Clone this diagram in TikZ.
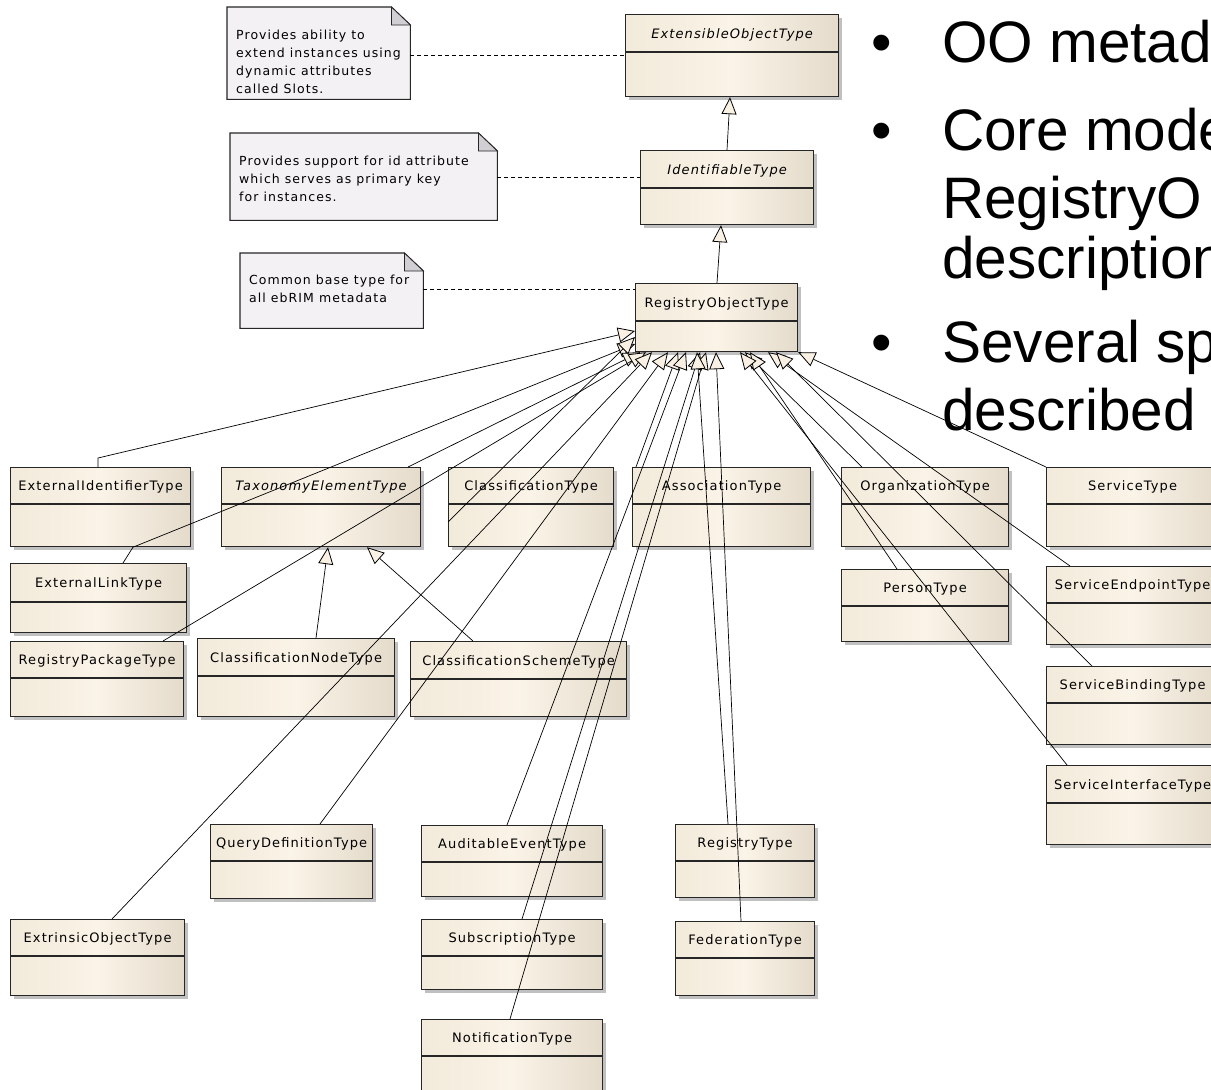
\documentclass[tikz,border=0pt]{standalone}
\usepackage{fontspec}
\setmainfont{DejaVu Sans}
\newfontfamily\eafont[LetterSpace=8.5]{DejaVu Sans}
\newfontfamily\slidefont{Liberation Sans}
\usetikzlibrary{arrows.meta,shadows,calc}

\definecolor{clsL}{RGB}{242,234,218}
\definecolor{clsM}{RGB}{250,243,231}
\definecolor{clsR}{RGB}{228,219,203}
\definecolor{clsEdge}{RGB}{38,38,38}
\definecolor{noteFill}{RGB}{244,241,245}
\definecolor{noteFold}{RGB}{210,207,212}
\definecolor{triFill}{RGB}{249,241,228}

\tikzset{
  clsbox/.style={rectangle, draw=clsEdge, line width=1.2pt, inner sep=0pt,
    left color=clsL, right color=clsR, middle color=clsM,
    drop shadow={shadow xshift=3.5pt, shadow yshift=-3.5pt, opacity=0.35, fill=black!70}},
  clsdiv/.style={draw=clsEdge, line width=1.1pt},
  clsname/.style={inner sep=0pt, yshift=-1.5pt, font=\eafont\fontsize{13}{15}\selectfont},
  clsital/.style={font=\eafont\itshape\fontsize{13}{15}\selectfont},
  notebody/.style={draw=clsEdge, line width=1.1pt, fill=noteFill},
  notefold/.style={draw=clsEdge, line width=0.8pt, fill=noteFold},
  notetext/.style={inner sep=0pt, align=left, font=\eafont\fontsize{12.5}{18}\selectfont},
  notelink/.style={draw=black, line width=0.8pt, dash pattern=on 4pt off 3pt},
  gen/.style={draw=black, line width=0.7pt,
    -{Triangle[length=17pt, width=15pt, fill=triFill, line width=0.8pt]}},
  slide/.style={inner sep=0pt, font=\slidefont\fontsize{58.5}{66}\selectfont},
}

\newcommand\umlclass[8][]{%
  \node[clsbox, anchor=north west, minimum width={#5-#3}, minimum height={#6-#4}] (#2) at (#3,#4) {};
  \draw[clsdiv] (#2.west |- 0,#7) -- (#2.east |- 0,#7);
  \node[clsname,#1] (#2-name) at ($(#2.north)!0.5!(#2.north |- 0,#7)$) {#8};
}
\newcommand\umlnote[7]{%
  \node[anchor=north west, minimum width={#4-#2}, minimum height={#5-#3}, inner sep=0pt] (#1) at (#2,#3) {};
  \filldraw[notebody] (#1.north west) -- ($(#1.north east)+(-19,0)$) -- ($(#1.north east)+(0,18)$)
     -- (#1.south east) -- (#1.south west) -- cycle;
  \filldraw[notefold] ($(#1.north east)+(-19,0)$) -- ($(#1.north east)+(-19,18)$) -- ($(#1.north east)+(0,18)$) -- cycle;
  \node[notetext, anchor=north west] (#1-text) at ($(#1.north west)+(9,#6)$) {#7};
}

\begin{document}
\begin{tikzpicture}[x=1pt,y=-1pt]
\useasboundingbox (0,0) rectangle (1211,1090);
\fill[white] (0,0) rectangle (1211,1090);
\clip (0,0) rectangle (1211,1090);

% notes
\umlnote{nA}{227}{7}{410}{99}{23}{Provides ability to\\extend instances using\\dynamic attributes\\called Slots.}
\umlnote{nB}{230}{133}{497}{220}{23}{Provides support for id attribute\\which serves as primary key\\for instances.}
\umlnote{nC}{240}{253}{423}{328}{22}{Common base type for\\all ebRIM metadata}

% classes
\umlclass[clsital]{eot}{625}{14}{838}{96}{52}{ExtensibleObjectType}
\umlclass[clsital]{idt}{640}{150}{813}{224}{188}{IdentifiableType}
\umlclass{ro}{635}{283}{797}{351}{321}{RegistryObjectType}

\umlclass{eit}{10}{467}{190}{546}{504}{ExternalIdentifierType}
\umlclass[clsital]{tet}{221}{467}{420}{546}{504}{TaxonomyElementType}
\umlclass{clt}{448}{467}{613}{546}{504}{ClassificationType}
\umlclass{ast}{632}{467}{810}{546}{504}{AssociationType}
\umlclass{org}{841}{467}{1008}{546}{504}{OrganizationType}
\umlclass{svc}{1046}{467}{1218}{546}{504}{ServiceType}

\umlclass{elt}{10}{563}{186}{632}{602}{ExternalLinkType}
\umlclass{per}{841}{569}{1008}{641}{606}{PersonType}
\umlclass{sep}{1046}{566}{1218}{644}{603}{ServiceEndpointType}

\umlclass{rpt}{10}{641}{183}{716}{678}{RegistryPackageType}
\umlclass{cnt}{197}{638}{394}{716}{676}{ClassificationNodeType}
\umlclass{cst}{410}{641}{626}{716}{679}{ClassificationSchemeType}
\umlclass{sbt}{1046}{666}{1218}{744}{703}{ServiceBindingType}

\umlclass{sit}{1046}{765}{1218}{844}{803}{ServiceInterfaceType}
\umlclass{qdt}{210}{824}{372}{898}{861}{QueryDefinitionType}
\umlclass{aet}{421}{825}{602}{896}{862}{AuditableEventType}
\umlclass{rgt}{675}{824}{814}{897}{861}{RegistryType}

\umlclass{xot}{10}{919}{184}{995}{956}{ExtrinsicObjectType}
\umlclass{sub}{421}{919}{602}{989}{956}{SubscriptionType}
\umlclass{fed}{675}{921}{814}{995}{958}{FederationType}

\umlclass{ntf}{421}{1019}{602}{1092}{1056}{NotificationType}

% note links
\draw[notelink] (nA.east |- 0,55) -- (eot.west |- 0,55);
\draw[notelink] (nB.east |- 0,177) -- (idt.west |- 0,177);
\draw[notelink] (nC.east |- 0,289) -- (ro.west |- 0,289);

% generalizations
\draw[gen] (idt.north -| 727,0) -- (eot.south -| 730,0);
\draw[gen] (ro.north -| 717,0) -- (idt.south -| 721,0);

\draw[gen] (eit.north -| 98,0) -- ++(0,-9) -- (ro.west |- 0,331);
\draw[gen] (elt.north -| 123,0) -- (eit.south -| 133,0) -- (ro.west |- 0,344);
\draw[gen] (tet.north -| 408,0) -- (ro.south -| 640,0);
\draw[gen] (rpt.north -| 163,0) -- (ro.south -| 646,0);
\draw[gen] (xot.north -| 112,0) -- (ro.south -| 652,0);
\draw[gen] (clt.west |- 0,522) -- (ro.west |- 0,337);
\draw[gen] (qdt.north -| 320,0) -- (ro.south -| 668,0);
\draw[gen] (ast.north -| 636,0) -- (ro.south -| 678,0);
\draw[gen] (aet.north -| 507,0) -- (ro.south -| 686,0);
\draw[gen] (sub.north -| 522,0) -- (ro.south -| 700,0);
\draw[gen] (ntf.north -| 510,0) -- (ro.south -| 706,0);
\draw[gen] (rgt.north -| 728,0) -- (ro.south -| 697,0);
\draw[gen] (fed.north -| 741,0) -- (ro.south -| 716,0);
\draw[gen] (org.north -| 862,0) -- (ro.south -| 745,0);
\draw[gen] (per.north -| 897,0) -- (ro.south -| 750,0);
\draw[gen] (sit.north -| 1067,0) -- (ro.south -| 740,0);
\draw[gen] (sep.north -| 1070,0) -- (ro.south -| 768,0);
\draw[gen] (sbt.north -| 1092,0) -- (ro.south -| 776,0);
\draw[gen] (svc.north west) -- (ro.south east);

\draw[gen] (cnt.north -| 316,0) -- (tet.south -| 328,0);
\draw[gen] (cst.north -| 473,0) -- (tet.south -| 367,0);

% slide text
\node[slide, anchor=base west] (b1) at (871,62) {•};
\node[slide, anchor=base west] (t1) at (942,62) {OO metad};
\node[slide, anchor=base west] (b2) at (871,150) {•};
\node[slide, anchor=base west] (t2) at (942,150) {Core mode};
\node[slide, anchor=base west] (t3) at (942,218) {RegistryO};
\node[slide, anchor=base west] (t4) at (942,278) {description};
\node[slide, anchor=base west] (b3) at (871,362) {•};
\node[slide, anchor=base west] (t5) at (942,362) {Several sp};
\node[slide, anchor=base west] (t6) at (942,430) {described};
\end{tikzpicture}
\end{document}
